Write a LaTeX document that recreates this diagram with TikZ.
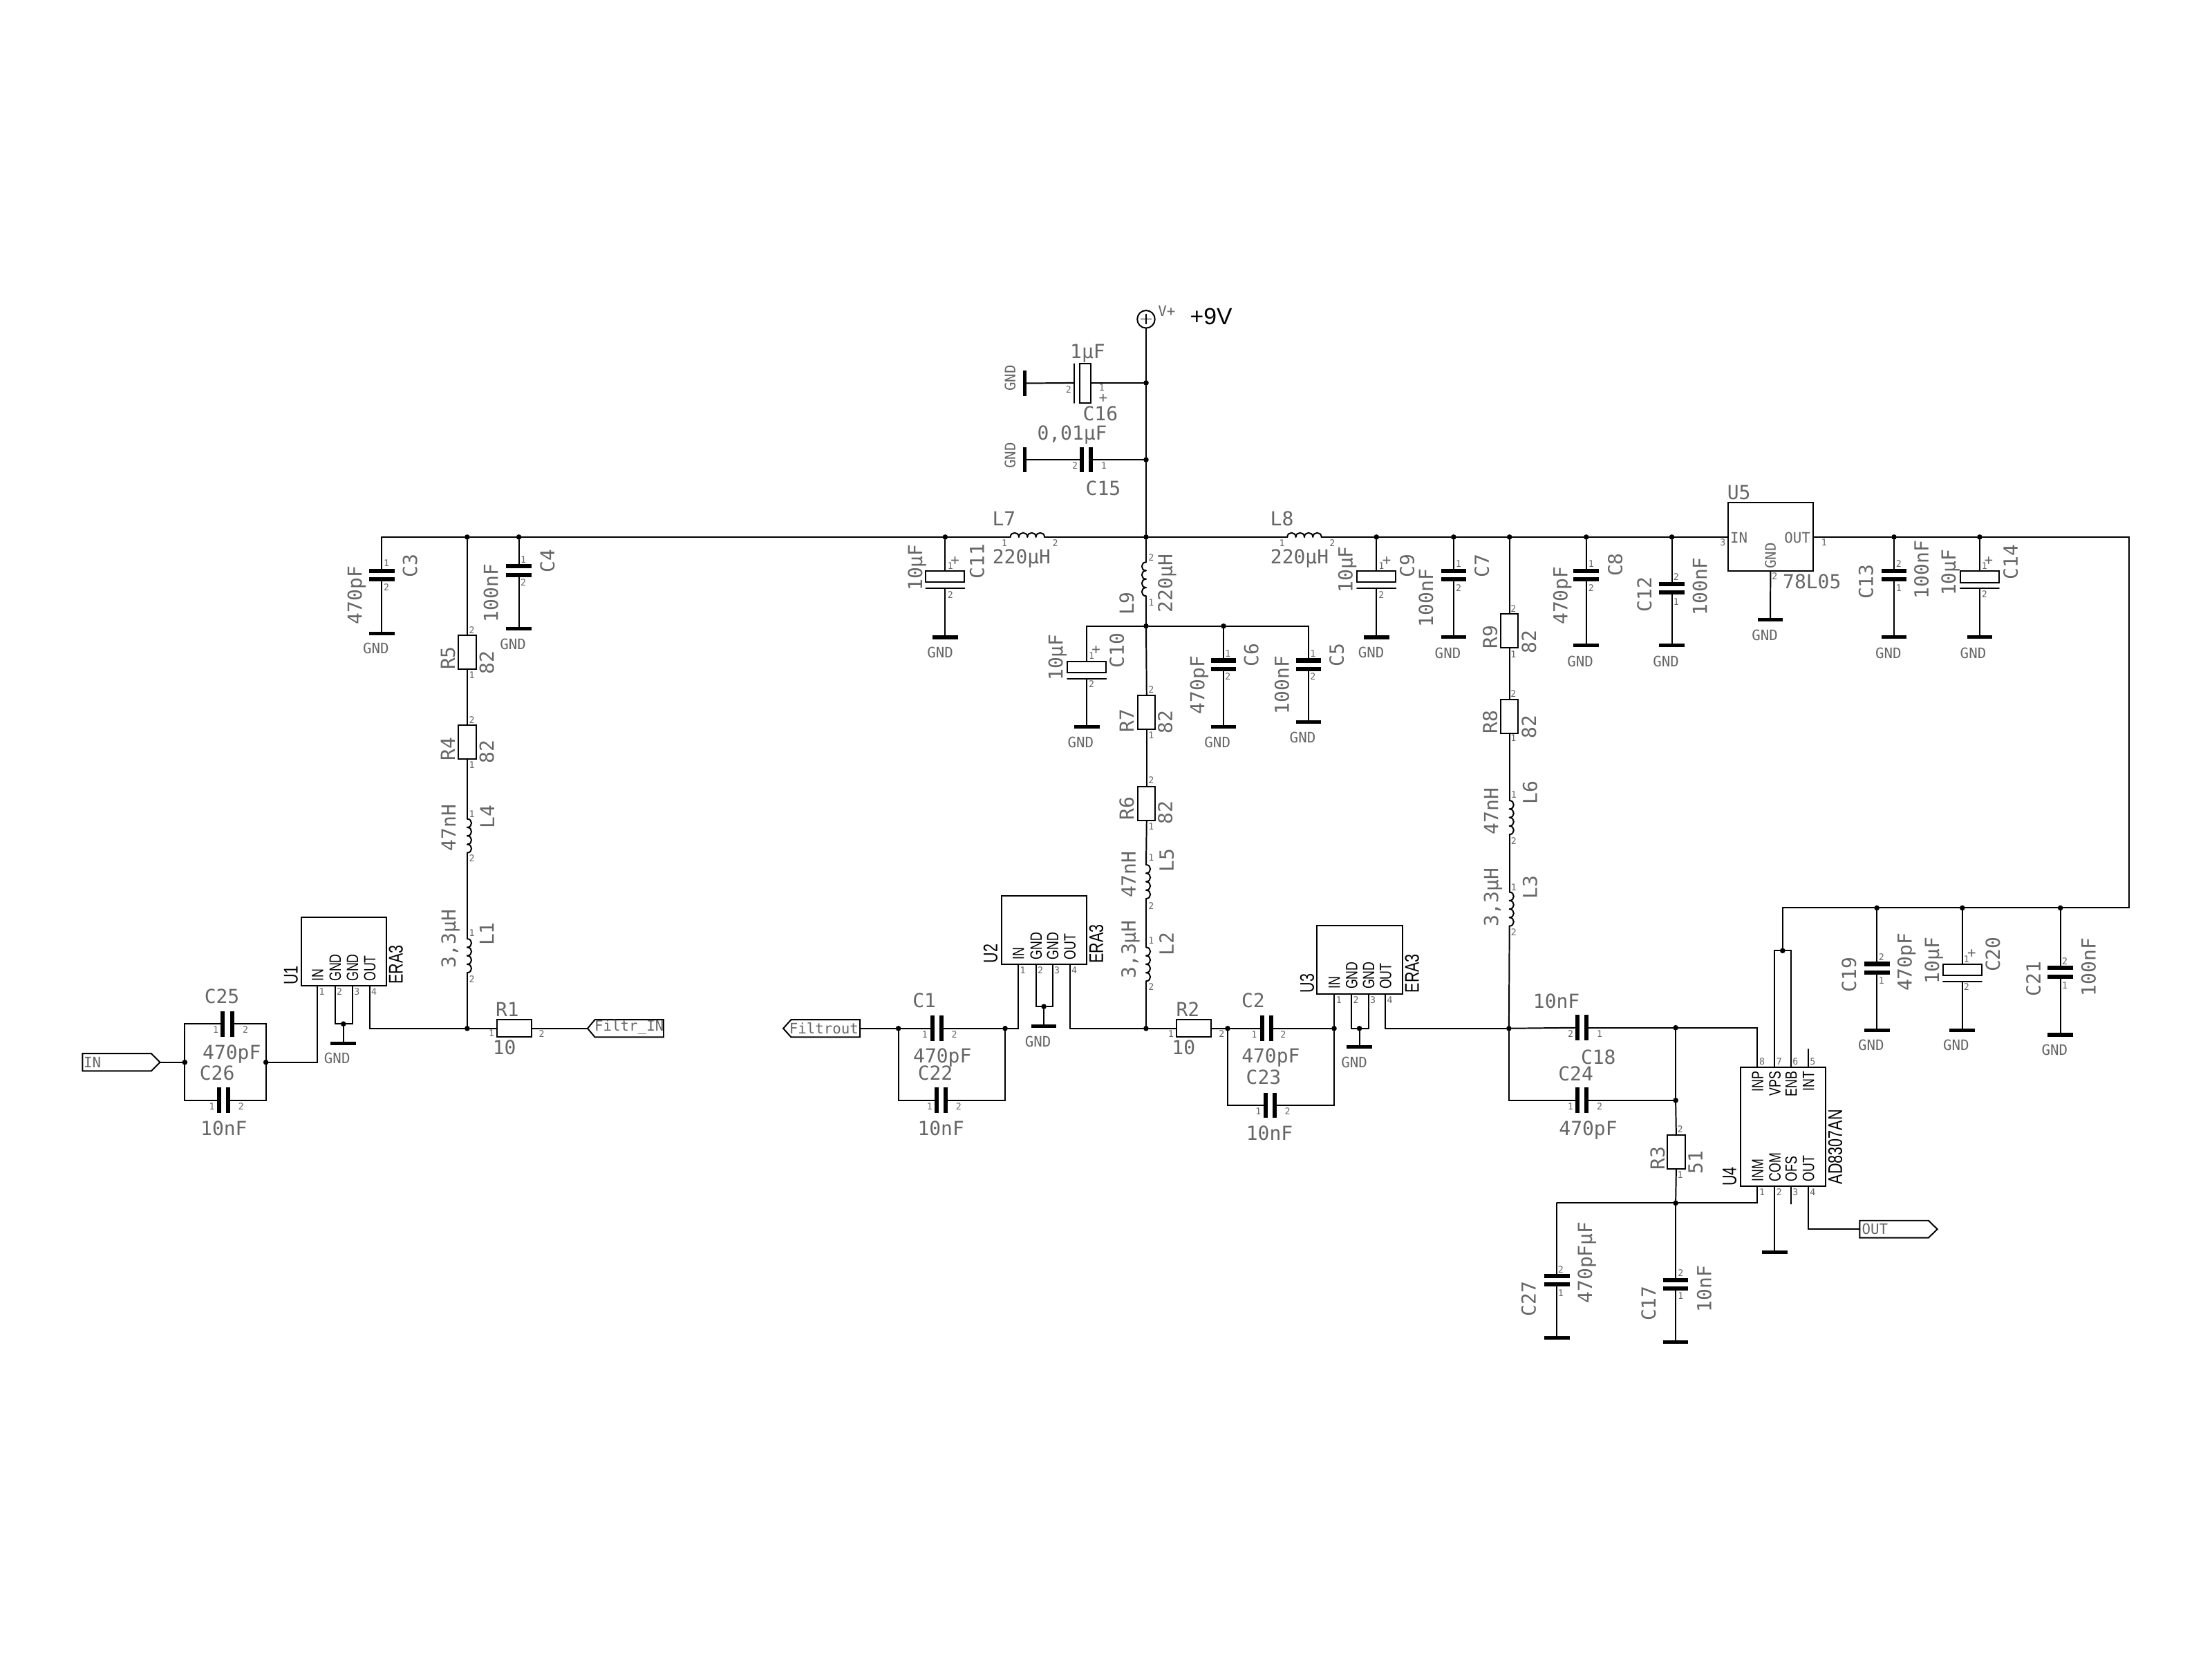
\documentclass[tikz,border=0pt]{standalone}
\usepackage{fontspec}
\newfontfamily\lblfont{DejaVu Sans Mono}
\newfontfamily\icfont[FakeStretch=0.75]{Liberation Sans}
\newfontfamily\supfont{Liberation Sans}
\definecolor{lblcol}{gray}{0.4}
\newcounter{nn}
\tikzset{
 wire/.style={line width=0.55pt,line cap=round,line join=miter},
 thinbox/.style={draw,line width=0.55pt,inner sep=0pt,outer sep=0pt,fill=white},
 lbl/.style={font=\lblfont\fontsize{7.8pt}{8pt}\selectfont,text=lblcol,inner sep=0pt,text height=5.7pt,text depth=0pt},
 sml/.style={font=\lblfont\fontsize{5.8pt}{6pt}\selectfont,text=lblcol,inner sep=0pt,text height=4.2pt,text depth=0pt},
 pinno/.style={font=\lblfont\fontsize{3.7pt}{4pt}\selectfont,text=lblcol,inner sep=0pt,text height=2.7pt,text depth=0pt},
 iclbl/.style={font=\icfont\fontsize{6.6pt}{7pt}\selectfont,inner sep=0pt,text height=4.7pt,text depth=0pt,rotate=90},
 icname/.style={font=\icfont\fontsize{8pt}{8pt}\selectfont,inner sep=0pt,text height=5.7pt,text depth=0pt,rotate=90},
 jn/.style={circle,fill=black,inner sep=0pt,outer sep=0pt,minimum size=0.075cm},
 gndbar/.style={rectangle,fill=black,inner sep=0pt,outer sep=0pt,minimum width=0.36cm,minimum height=0.05cm},
 gndbarv/.style={rectangle,fill=black,inner sep=0pt,outer sep=0pt,minimum width=0.05cm,minimum height=0.36cm},
 ghost/.style={rectangle,inner sep=0pt,outer sep=0pt},
}
% text helpers
\newcommand\Tx[4][]{\stepcounter{nn}\node[lbl,#1] (t\thenn) at (#2,#3) {#4};}
\newcommand\Tv[3]{\Tx[rotate=90]{#1}{#2}{#3}}
\newcommand\Sm[4][]{\stepcounter{nn}\node[sml,#1] (t\thenn) at (#2,#3) {#4};}
\newcommand\Gn[2]{\Sm{#1}{#2}{GND}}
\newcommand\Pn[3]{\stepcounter{nn}\node[pinno] (t\thenn) at (#1,#2) {#3};}
\newcommand\Pl[3]{\stepcounter{nn}\node[iclbl,anchor=west] (t\thenn) at (#1,#2) {#3};}
\newcommand\Pt[3]{\stepcounter{nn}\node[iclbl,anchor=east] (t\thenn) at (#1,#2) {#3};}
\newcommand\Nm[3]{\stepcounter{nn}\node[icname] (t\thenn) at (#1,#2) {#3};}
% parts
\newcommand\Jn[3]{\node[jn] (#1) at (#2,#3) {};}
\newcommand\Gb[3]{\node[gndbar] (#1) at (#2,#3) {};}
\newcommand\capV[3]{\node[ghost,minimum width=0.36cm,minimum height=0.18cm] (#1) at (#2,#3) {};
 \fill (#1.north west) rectangle ++(18,3); \fill (#1.south west) rectangle ++(18,-3);}
\newcommand\capH[3]{\node[ghost,minimum width=0.19cm,minimum height=0.36cm] (#1) at (#2,#3) {};
 \fill (#1.north west) rectangle ++(3,18); \fill (#1.north east) rectangle ++(-3,18);}
\newcommand\polV[3]{\node[thinbox,minimum width=0.55cm,minimum height=0.16cm] (#1) at (#2,#3+4) {};
 \coordinate (#1-a) at (#2-13.75,#3+12.3); \coordinate (#1-b) at (#2+13.75,#3+12.3); \coordinate (#1-p) at (#2,#3+12.3);
 \draw[wire] (#1-a) -- (#1-b);}
\newcommand\RV[3]{\node[thinbox,minimum width=0.248cm,minimum height=0.48cm] (#1) at (#2,#3) {};}
\newcommand\RH[3]{\node[thinbox,minimum width=0.49cm,minimum height=0.244cm] (#1) at (#2,#3) {};}
\newcommand\coilV[4]{\node[ghost,minimum width=0.1cm,minimum height=0.48cm] (#1) at (#2,#3+12) {};
 \foreach \i in {0,1,2,3}{\draw[wire] (#2,{#3+6*\i}) .. controls ({#2+#4*4},{#3+6*\i}) and ({#2+#4*4},{#3+6*\i+6}) .. (#2,{#3+6*\i+6});}}
\newcommand\coilH[3]{\node[ghost,minimum width=0.484cm,minimum height=0.1cm] (#1) at (#2+12.1,#3) {};
 \foreach \i in {0,1,2,3}{\draw[wire] ({#2+6.05*\i},#3) .. controls ({#2+6.05*\i},#3-4) and ({#2+6.05*\i+6.05},#3-4) .. ({#2+6.05*\i+6.05},#3);}}
\newcommand\IC[5]{\node[thinbox,minimum width={(#4-#2)*0.02cm},minimum height={(#5-#3)*0.02cm}] (#1) at ({(#2+#4)/2},{(#3+#5)/2}) {};}
\begin{document}
\begin{tikzpicture}[x=0.02cm,y=-0.02cm]
\useasboundingbox[fill=white] (0,0) rectangle (1568,1176);

% ---- supply and top
\node[thinbox,circle,minimum size=0.25cm] (VP) at (812.4,226.3) {};
\draw[line width=0.35pt] (VP.north) ++(0,2.4) -- ++(0,7.4) ++(-3.7,-3.7) -- ++(7.4,0);
\Sm{827}{220.4}{V+}
\stepcounter{nn}\node[inner sep=0pt,font=\supfont\fontsize{9.4pt}{10pt}\selectfont] (t\thenn) at (858.5,224.4) {+9V};

\Jn{j16}{812.4}{271.4} \Jn{j15}{812.4}{325.9}
\Jn{r1}{331.2}{380.7} \Jn{r2}{367.8}{380.7} \Jn{r3}{670}{380.7} \Jn{r4}{812.4}{380.7}
\Jn{r5}{975.7}{380.7} \Jn{r6}{1030.4}{380.7} \Jn{r7}{1070}{380.7} \Jn{r8}{1124.4}{380.7} \Jn{r9}{1185.1}{380.7}
\Jn{r10}{1342.6}{380.7} \Jn{r11}{1403.3}{380.7}
\coordinate (railL) at (270.6,380.7); \coordinate (railR) at (1509,380.7); \coordinate (railB) at (1509,643.6);
\Jn{b1}{1460.5}{643.6} \Jn{b2}{1391}{643.6} \Jn{b3}{1330.4}{643.6} \coordinate (bL) at (1263.6,643.6);

% C16
\node[thinbox,minimum width=0.16cm,minimum height=0.55cm] (C16) at (769.4,271.7) {};
\coordinate (C16a) at (761.6,257.9); \coordinate (C16b) at (761.6,285.6); \coordinate (C16p) at (761.6,271.4);
\draw[wire] (C16a) -- (C16b);
\node[gndbarv] (G16) at (726.3,271.7) {};
\draw[wire] (VP) -- (j16); \draw[wire] (j16) -- (j15); \draw[wire] (j15) -- (r4);
\draw[wire] (j16) -- (C16.east |- j16); \draw[wire] (G16) -- (C16p);
\Tx{771}{249}{1µF} \Tx{780}{293}{C16} \Pn{757.5}{276}{2} \Pn{781}{274.6}{1} \Sm{782}{281.6}{+}
\stepcounter{nn}\node[sml,rotate=90] (t\thenn) at (716,268) {GND};
% C15
\node[ghost,minimum width=0.19cm,minimum height=0.36cm] (C15) at (770,325.9) {};
\fill (C15.north west) rectangle ++(3,18); \fill (C15.north east) rectangle ++(-3,18);
\node[gndbarv] (G15) at (726.3,325.9) {};
\draw[wire] (G15) -- (C15.west); \draw[wire] (C15.east) -- (j15);
\Tx{760}{307}{0,01µF} \Tx{782}{346}{C15} \Pn{762}{330}{2} \Pn{782.5}{330}{1}
\stepcounter{nn}\node[sml,rotate=90] (t\thenn) at (716,323) {GND};

% rail
\coilH{L7}{716.2}{380.7} \coilH{L8}{912.5}{380.7}
\IC{U5}{1224.8}{356.4}{1285.3}{404.9}
\draw[wire] (railL) -- (r1); \draw[wire] (r1) -- (r2); \draw[wire] (r2) -- (r3); \draw[wire] (r3) -- (L7.west);
\draw[wire] (L7.east) -- (r4); \draw[wire] (r4) -- (L8.west); \draw[wire] (L8.east) -- (r5);
\draw[wire] (r5) -- (r6); \draw[wire] (r6) -- (r7); \draw[wire] (r7) -- (r8); \draw[wire] (r8) -- (r9);
\draw[wire] (r9) -- (U5.west |- r9); \draw[wire] (U5.east |- r9) -- (r10); \draw[wire] (r10) -- (r11);
\draw[wire] (r11) -- (railR) -- (railB) -- (b1); \draw[wire] (b1) -- (b2); \draw[wire] (b2) -- (b3); \draw[wire] (b3) -- (bL);
\Tx{711.7}{367.7}{L7} \Tx{724.2}{394.5}{220µH} \Pn{712}{384.8}{1} \Pn{748}{384.8}{2}
\Tx{908.7}{367.7}{L8} \Tx{921.2}{394.5}{220µH} \Pn{908.7}{384.8}{1} \Pn{944.4}{384.8}{2}

% C3, C4
\capV{C3}{270.6}{407.6} \Gb{G3}{270.6}{449}
\draw[wire] (railL) -- (C3.north); \draw[wire] (C3.south) -- (G3);
\Tv{251.5}{422}{470pF} \Tv{290.7}{401}{C3} \Gn{266.5}{459.5} \Pn{274}{399.3}{1} \Pn{274}{416.5}{2}
\capV{C4}{367.8}{404.5} \Gb{G4}{367.8}{445.5}
\draw[wire] (r2) -- (C4.north); \draw[wire] (C4.south) -- (G4);
\Tv{348}{420.5}{100nF} \Tv{388}{397.5}{C4} \Gn{363.6}{456.7} \Pn{371}{396.5}{1} \Pn{371}{413}{2}

% R5 R4 L4 L1 chain
\RV{R5}{331.2}{462.5} \RV{R4}{331.2}{526} \coilV{L4}{331.2}{580.5}{1} \coilV{L1}{331.2}{665.5}{1}
\Jn{n1}{331.2}{729}
\draw[wire] (r1) -- (R5.north); \draw[wire] (R5.south) -- (R4.north); \draw[wire] (R4.south) -- (L4.north);
\draw[wire] (L4.south) -- (L1.north); \draw[wire] (L1.south) -- (n1);
\Tv{317.5}{466.5}{R5} \Tv{345}{469.5}{82} \Pn{334.5}{446.5}{2} \Pn{334.5}{478.7}{1}
\Tv{317.5}{530.8}{R4} \Tv{345}{533}{82} \Pn{334.5}{510.5}{2} \Pn{334.5}{542.5}{1}
\Tv{318}{586.8}{47nH} \Tv{345.4}{579}{L4} \Pn{334.5}{577}{1} \Pn{334.5}{608.5}{2}
\Tv{318}{665.4}{3,3µH} \Tv{345}{662}{L1} \Pn{334.5}{661.5}{1} \Pn{334.5}{694}{2}

% U1 section
\IC{U1}{213.5}{650.3}{273.7}{698.8}
\coordinate (u1p1) at (225,698.8); \coordinate (u1p2) at (237.5,698.8); \coordinate (u1p3) at (249.8,698.8); \coordinate (u1p4) at (262,698.8);
\Jn{n2}{243.4}{725.8} \Gb{G1}{243.4}{739.5} \Jn{n3}{188.5}{753} \Jn{n4}{131}{753}
\coordinate (u1c2) at (237.5,725.8); \coordinate (u1c3) at (249.8,725.8); \coordinate (u1c1) at (225,753); \coordinate (u1c4) at (262,729);
\draw[wire] (u1p2) -- (u1c2) -- (n2); \draw[wire] (u1p3) -- (u1c3) -- (n2); \draw[wire] (n2) -- (G1);
\draw[wire] (u1p1) -- (u1c1) -- (n3); \draw[wire] (u1p4) -- (u1c4) -- (n1);
\RH{R1}{364.6}{729}
\draw[wire] (n1) -- (R1.west);
\coordinate (tagF) at (416.5,729); \draw[wire] (R1.east) -- (tagF);
\draw[wire] (tagF) -- (421.7,722.8) -- (470.4,722.8) -- (470.4,735.2) -- (421.7,735.2) -- cycle;
\Sm{446}{727.3}{Filtr\_IN}
\Tx{359.6}{715.4}{R1} \Tx{357.5}{742.3}{10} \Pn{348.5}{732.5}{1} \Pn{384}{733}{2}
\Gn{239}{750}
\Nm{206}{691.5}{U1} \Nm{280.5}{683.9}{ERA3}
\Pl{225}{696}{IN} \Pl{237.5}{696}{GND} \Pl{249.8}{696}{GND} \Pl{262}{696}{OUT}
\Pn{228.2}{702.8}{1} \Pn{240.7}{702.8}{2} \Pn{253}{702.8}{3} \Pn{265.2}{702.8}{4}
% C25 C26, IN
\capH{C25}{161.2}{725.8} \capH{C26}{158.4}{780}
\coordinate (c2a) at (131,725.8); \coordinate (c2b) at (188.5,725.8); \coordinate (c2c) at (131,780); \coordinate (c2d) at (188.5,780);
\draw[wire] (n4) -- (c2a) -- (C25.west); \draw[wire] (C25.east) -- (c2b) -- (n3);
\draw[wire] (n4) -- (c2c) -- (C26.west); \draw[wire] (C26.east) -- (c2d) -- (n3);
\coordinate (tagI) at (113.4,753); \draw[wire] (tagI) -- (n4);
\draw[wire] (tagI) -- (107.2,746.8) -- (58.5,746.8) -- (58.5,759.2) -- (107.2,759.2) -- cycle;
\Sm{65.5}{753}{IN}
\Tx{157.3}{706.4}{C25} \Tx{164.3}{746}{470pF} \Tx{153.9}{760.8}{C26} \Tx{158.7}{800}{10nF}
\Pn{152.9}{730}{1} \Pn{174}{730}{2} \Pn{150.3}{784.5}{1} \Pn{171}{784.5}{2}

% L9 branch
\coilV{L9}{812.4}{398.5}{-1} \Jn{k0}{812.4}{443.8} \Jn{k1}{867.3}{443.8}
\coordinate (kL) at (770.4,443.8); \coordinate (kR) at (927.6,443.8);
\RV{R7}{812.8}{505} \RV{R6}{812.8}{569.5}
\coilV{L5}{812.4}{613}{1} \coilV{L2}{812.4}{671.5}{1} \Jn{m1}{812.4}{729}
\draw[wire] (r4) -- (L9.north); \draw[wire] (L9.south) -- (k0); \draw[wire] (k0) -- (R7.north);
\draw[wire] (R7.south) -- (R6.north); \draw[wire] (R6.south) -- (L5.north); \draw[wire] (L5.south) -- (L2.north); \draw[wire] (L2.south) -- (m1);
\draw[wire] (kL) -- (k0); \draw[wire] (k0) -- (k1); \draw[wire] (k1) -- (kR);
\Tv{798.7}{427.8}{L9} \Tv{826}{413.6}{220µH} \Pn{816}{395.4}{2} \Pn{816}{427}{1}
\Tv{798.7}{511}{R7} \Tv{826}{512}{82} \Pn{816}{489}{2} \Pn{816}{521}{1}
\Tv{798.7}{573}{R6} \Tv{826}{576}{82} \Pn{816}{553}{2} \Pn{816}{586}{1}
\Tv{800}{620}{47nH} \Tv{827}{610}{L5} \Pn{816}{608}{1} \Pn{816}{642}{2}
\Tv{800}{673}{3,3µH} \Tv{827}{669}{L2} \Pn{816}{666.7}{1} \Pn{816}{699.7}{2}
% C10 C6 C5
\polV{C10}{770.4}{468.7} \Gb{G10}{770.4}{515.3}
\draw[wire] (kL) -- (C10.north); \draw[wire] (C10-p) -- (G10);
\Tv{748.3}{466}{10µF} \Tv{791.7}{461}{C10} \Gn{766}{526.2} \Pn{773.7}{465}{1} \Sm{777}{460}{+} \Pn{773.7}{485}{2}
\capV{C6}{867.3}{471.2} \Gb{G6}{867.3}{515.3}
\draw[wire] (k1) -- (C6.north); \draw[wire] (C6.south) -- (G6);
\Tv{848.7}{485.6}{470pF} \Tv{887}{464.5}{C6} \Gn{863}{526.2} \Pn{870.4}{463.5}{1} \Pn{870.4}{479.7}{2}
\capV{C5}{927.6}{471.2} \Gb{G5}{927.6}{512}
\draw[wire] (kR) -- (C5.north); \draw[wire] (C5.south) -- (G5);
\Tv{908.7}{485.6}{100nF} \Tv{947.5}{464.5}{C5} \Gn{923.4}{522.8} \Pn{930.7}{463.5}{1} \Pn{930.7}{479.7}{2}
% C11 C9
\polV{C11}{670}{404.8} \Gb{G11}{670}{451.8}
\draw[wire] (r3) -- (C11.north); \draw[wire] (C11-p) -- (G11);
\Tv{648.7}{402.3}{10µF} \Tv{692.5}{398}{C11} \Gn{666.5}{462.4} \Pn{673.7}{401}{1} \Sm{677}{397}{+} \Pn{673.7}{421.5}{2}
\polV{C9}{975.7}{404.8} \Gb{G9}{975.7}{451.8}
\draw[wire] (r5) -- (C9.north); \draw[wire] (C9-p) -- (G9);
\Tv{953.7}{403.7}{10µF} \Tv{997.4}{401}{C9} \Gn{972}{462.4} \Pn{979.2}{401}{1} \Sm{983}{397}{+} \Pn{979.2}{421.5}{2}
% C7 C8 C12
\capV{C7}{1030.4}{407.6} \Gb{G7}{1030.4}{451.6}
\draw[wire] (r6) -- (C7.north); \draw[wire] (C7.south) -- (G7);
\Tv{1010.8}{423.8}{100nF} \Tv{1050.4}{400.9}{C7} \Gn{1026.3}{463} \Pn{1034}{399.6}{1} \Pn{1034}{417}{2}
\capV{C8}{1124.4}{407.6} \Gb{G8}{1124.4}{457.6}
\draw[wire] (r8) -- (C8.north); \draw[wire] (C8.south) -- (G8);
\Tv{1106.1}{422.2}{470pF} \Tv{1145}{400.4}{C8} \Gn{1120.2}{468.8} \Pn{1127.9}{399.6}{1} \Pn{1127.9}{417}{2}
\capV{C12}{1185.1}{417} \Gb{G12}{1185.1}{457.6}
\draw[wire] (r9) -- (C12.north); \draw[wire] (C12.south) -- (G12);
\Tv{1205}{415.7}{100nF} \Tv{1165.7}{421.4}{C12} \Gn{1181}{468.8} \Pn{1188.2}{409}{2} \Pn{1188.2}{426.6}{1}
% U5
\Gb{G5v}{1254.9}{439.5}
\draw[wire] (U5.south) -- (G5v);
\Tx{1232.7}{349}{U5} \Sm{1232.7}{381}{IN} \Sm{1274}{381}{OUT} \Sm[rotate=90]{1255}{394}{GND}
\Tx{1284.4}{412.4}{78L05} \Pn{1221.3}{384.6}{3} \Pn{1293}{384.6}{1} \Pn{1258}{408.7}{2} \Gn{1251}{450.5}
% C13 C14
\capV{C13}{1342.6}{407.6} \Gb{G13}{1342.6}{451.6}
\draw[wire] (r10) -- (C13.north); \draw[wire] (C13.south) -- (G13);
\Tv{1362}{403.8}{100nF} \Tv{1322.7}{412.4}{C13} \Gn{1338.6}{463} \Pn{1346}{399.6}{2} \Pn{1346}{417}{1}
\polV{C14}{1403.3}{404.9} \Gb{G14}{1403.3}{451.6}
\draw[wire] (r11) -- (C14.north); \draw[wire] (C14-p) -- (G14);
\Tv{1381.3}{405.8}{10µF} \Tv{1425.2}{398.5}{C14} \Gn{1398.7}{463} \Pn{1406.7}{401}{1} \Sm{1409.7}{397}{+} \Pn{1406.7}{421.4}{2}

% U2 section
\IC{U2}{710}{635}{770.5}{683.5}
\coordinate (u2p1) at (721.7,683.5); \coordinate (u2p2) at (734.3,683.5); \coordinate (u2p3) at (746.1,683.5); \coordinate (u2p4) at (758.3,683.5);
\Jn{p1}{739.9}{713.5} \Gb{G2}{739.9}{727.2}
\coordinate (u2c2) at (734.3,713.5); \coordinate (u2c3) at (746.1,713.5); \coordinate (u2c1) at (721.7,729); \coordinate (u2c4) at (758.3,729);
\Jn{q1}{636.8}{729} \Jn{q2}{712.5}{729}
\draw[wire] (u2p2) -- (u2c2) -- (p1); \draw[wire] (u2p3) -- (u2c3) -- (p1); \draw[wire] (p1) -- (G2);
\draw[wire] (u2p1) -- (u2c1) -- (q2); \draw[wire] (u2p4) -- (u2c4) -- (m1);
\Nm{702}{676}{U2} \Nm{777}{669}{ERA3}
\Pl{721.7}{680.6}{IN} \Pl{734.3}{680.6}{GND} \Pl{746.1}{680.6}{GND} \Pl{758.3}{680.6}{OUT}
\Pn{725}{687.7}{1} \Pn{737.5}{687.7}{2} \Pn{749.3}{687.7}{3} \Pn{761.5}{687.7}{4}
\Gn{735.8}{738.2}
\capH{C1}{664.3}{729} \capH{C22}{667}{780}
\coordinate (c1c) at (636.8,780); \coordinate (c1d) at (712.5,780);
\draw[wire] (q1) -- (C1.west); \draw[wire] (C1.east) -- (q2);
\draw[wire] (q1) -- (c1c) -- (C22.west); \draw[wire] (C22.east) -- (c1d) -- (q2);
\coordinate (tagO) at (609.6,729); \draw[wire] (tagO) -- (q1);
\draw[wire] (555.2,729) -- (560.8,722.8) -- (609.6,722.8) -- (609.6,735.2) -- (560.8,735.2) -- cycle;
\Sm{584}{729}{Filtrout}
\Tx{655.2}{709}{C1} \Tx{668}{748.5}{470pF} \Tx{663}{760.8}{C22} \Tx{667}{800}{10nF}
\Pn{655.6}{733.3}{1} \Pn{676.5}{733.3}{2} \Pn{659}{784.5}{1} \Pn{679.6}{784.5}{2}
% R2 C2 C23
\RH{R2}{846.3}{729} \Jn{q3}{870.2}{729} \Jn{q4}{945.7}{729}
\draw[wire] (m1) -- (R2.west); \draw[wire] (R2.east) -- (q3);
\capH{C2}{897.8}{729} \capH{C23}{900.5}{783.5}
\coordinate (c3c) at (870.2,783.5); \coordinate (c3d) at (945.7,783.5);
\draw[wire] (q3) -- (C2.west); \draw[wire] (C2.east) -- (q4);
\draw[wire] (q3) -- (c3c) -- (C23.west); \draw[wire] (C23.east) -- (c3d) -- (q4);
\Tx{842}{715.7}{R2} \Tx{839}{742.3}{10} \Pn{830}{733}{1} \Pn{866}{733}{2}
\Tx{888.3}{709}{C2} \Tx{900.8}{748.5}{470pF} \Tx{895.7}{763.5}{C23} \Tx{899.9}{803}{10nF}
\Pn{889}{733.3}{1} \Pn{909.6}{733.3}{2} \Pn{892}{787.5}{1} \Pn{912.7}{787.5}{2}
% U3
\IC{U3}{933.6}{656.2}{994}{704.7}
\coordinate (u3p1) at (945.7,704.7); \coordinate (u3p2) at (958,704.7); \coordinate (u3p3) at (970,704.7); \coordinate (u3p4) at (982,704.7);
\coordinate (u3c2) at (958,729); \coordinate (u3c3) at (970,729); \coordinate (u3c4) at (982,729);
\Jn{s1}{963.6}{729} \Gb{G3u}{963.6}{742.3} \Jn{s2}{1069.6}{729}
\draw[wire] (u3p1) -- (q4); \draw[wire] (u3p2) -- (u3c2) -- (s1); \draw[wire] (u3p3) -- (u3c3) -- (s1); \draw[wire] (s1) -- (G3u);
\draw[wire] (u3p4) -- (u3c4) -- (s2);
\Nm{926.4}{697}{U3} \Nm{1000.8}{690}{ERA3}
\Pl{945.7}{701.5}{IN} \Pl{958}{701.5}{GND} \Pl{970}{701.5}{GND} \Pl{982}{701.5}{OUT}
\Pn{949}{709}{1} \Pn{961.2}{709}{2} \Pn{973.2}{709}{3} \Pn{985.2}{709}{4}
\Gn{960}{753}

% R9 R8 L6 L3
\RV{R9}{1070}{447.3} \RV{R8}{1070}{508} \coilV{L6}{1070}{567.5}{1} \coilV{L3}{1070}{632.4}{1}
\draw[wire] (r7) -- (R9.north); \draw[wire] (R9.south) -- (R8.north); \draw[wire] (R8.south) -- (L6.north);
\draw[wire] (L6.south) -- (L3.north); \draw[wire] (L3.south) -- (s2);
\Tv{1056.3}{451.6}{R9} \Tv{1083.8}{454.9}{82} \Pn{1072.8}{431.7}{2} \Pn{1072.8}{463.9}{1}
\Tv{1056.3}{512}{R8} \Tv{1083.8}{515.3}{82} \Pn{1072.8}{492}{2} \Pn{1072.8}{523.3}{1}
\Tv{1057}{575}{47nH} \Tv{1084.5}{562}{L6} \Pn{1073}{563.5}{1} \Pn{1073}{596}{2}
\Tv{1057}{636}{3,3µH} \Tv{1084.5}{628.9}{L3} \Pn{1073}{629}{1} \Pn{1073}{660.6}{2}

% U4 section
\IC{U4}{1233.6}{756.4}{1294.2}{841}
\coordinate (u8) at (1245.8,756.4); \coordinate (u7) at (1258,756.4); \coordinate (u6) at (1269.5,756.4); \coordinate (u5) at (1281.8,756.4);
\coordinate (u5e) at (1281.8,743.8);
\coordinate (u1) at (1245.8,841); \coordinate (u2) at (1258,841); \coordinate (u3) at (1269.5,841); \coordinate (u4) at (1281.8,841);
\coordinate (u3e) at (1269.5,853.4);
\Jn{v1}{1263.6}{673.9} \coordinate (v7) at (1258,673.9); \coordinate (v6) at (1269.5,673.9);
\draw[wire] (bL) -- (v1); \draw[wire] (v1) -- (v7) -- (u7); \draw[wire] (v1) -- (v6) -- (u6); \draw[wire] (u5) -- (u5e); \draw[wire] (u3) -- (u3e);
\Jn{w1}{1187.8}{728.5} \Jn{w2}{1187.8}{780} \Jn{w3}{1187.8}{852.8}
\coordinate (u8c) at (1245.8,728.5); \coordinate (c24L) at (1069.6,780); \coordinate (u1c) at (1245.8,852.8); \coordinate (c27t) at (1103.6,852.8);
\capH{C18}{1121.2}{728.5} \capH{C24}{1121.2}{780}
\draw[wire] (s2) -- (C18.west); \draw[wire] (C18.east) -- (w1); \draw[wire] (w1) -- (u8c) -- (u8);
\draw[wire] (s2) -- (c24L) -- (C24.west); \draw[wire] (C24.east) -- (w2);
\draw[wire] (w1) -- (w2);
\RV{R3}{1188.2}{816.8}
\draw[wire] (w2) -- (R3.north); \draw[wire] (R3.south) -- (w3);
\draw[wire] (u1) -- (u1c) -- (w3); \draw[wire] (w3) -- (c27t);
\capV{C27}{1103.6}{907.4} \Gb{G27}{1103.6}{948.2} \capV{C17}{1187.8}{910.5} \Gb{G17}{1187.8}{951.5}
\draw[wire] (c27t) -- (C27.north); \draw[wire] (C27.south) -- (G27); \draw[wire] (w3) -- (C17.north); \draw[wire] (C17.south) -- (G17);
\Gb{G4u}{1258}{887.8} \draw[wire] (u2) -- (G4u);
\coordinate (u4c) at (1281.8,871.3); \coordinate (tagU) at (1318.3,871.3);
\draw[wire] (u4) -- (u4c) -- (tagU);
\draw[wire] (tagU) -- (1318.3,865.2) -- (1367,865.2) -- (1373.3,871.3) -- (1367,877.4) -- (1318.3,877.4) -- cycle;
\Sm{1329}{871.3}{OUT}
\Nm{1225.8}{834}{U4}
\stepcounter{nn}\node[icname] (t\thenn) at (1300.8,813) {AD8307AN};
\Pt{1245.8}{759}{INP} \Pt{1258}{759}{VPS} \Pt{1269.5}{759}{ENB} \Pt{1281.8}{759}{INT}
\Pl{1245.8}{838}{INM} \Pl{1258}{838}{COM} \Pl{1269.5}{838}{OFS} \Pl{1281.8}{838}{OUT}
\Pn{1249}{752.4}{8} \Pn{1261.2}{752.4}{7} \Pn{1272.7}{752.4}{6} \Pn{1285}{752.4}{5}
\Pn{1249}{845}{1} \Pn{1261.2}{845}{2} \Pn{1272.7}{845}{3} \Pn{1285}{845}{4}
\Tx{1103.3}{709.8}{10nF} \Tx{1133}{749.3}{C18} \Pn{1113.3}{733}{2} \Pn{1133.9}{733}{1}
\Tx{1117}{760.9}{C24} \Tx{1125.8}{800}{470pF} \Pn{1113.3}{784.3}{1} \Pn{1133.9}{784.3}{2}
\Tv{1174.9}{821}{R3} \Tv{1201.8}{824}{51} \Pn{1191}{800.7}{2} \Pn{1191}{833}{1}
\Tv{1123.5}{895}{470pFµF} \Tv{1083.6}{920.7}{C27} \Pn{1106.4}{900}{2} \Pn{1106.4}{916.6}{1}
\Tv{1208}{913.7}{10nF} \Tv{1168.6}{924}{C17} \Pn{1191.4}{902.5}{2} \Pn{1191.4}{918.8}{1}

% C19 C20 C21
\capV{C19}{1330.4}{686.3} \Gb{G19}{1330.4}{730.4}
\draw[wire] (b3) -- (C19.north); \draw[wire] (C19.south) -- (G19);
\Tv{1350.1}{682}{470pF} \Tv{1310.7}{691}{C19} \Gn{1326.4}{741} \Pn{1333.7}{678.6}{2} \Pn{1333.7}{695}{1}
\polV{C20}{1391}{683.6} \Gb{G20}{1391}{730.4}
\draw[wire] (b2) -- (C20.north); \draw[wire] (C20-p) -- (G20);
\Tv{1369.5}{681}{10µF} \Tv{1412.6}{676.5}{C20} \Gn{1386.6}{741} \Pn{1394}{680}{1} \Sm{1397.6}{675}{+} \Pn{1394}{699.7}{2}
\capV{C21}{1460.5}{689.2} \Gb{G21}{1460.5}{733.5}
\draw[wire] (b1) -- (C21.north); \draw[wire] (C21.south) -- (G21);
\Tv{1480.5}{685.5}{100nF} \Tv{1441.4}{694}{C21} \Gn{1456.5}{744.3} \Pn{1463.7}{681.6}{2} \Pn{1463.7}{698.5}{1}
\end{tikzpicture}
\end{document}
